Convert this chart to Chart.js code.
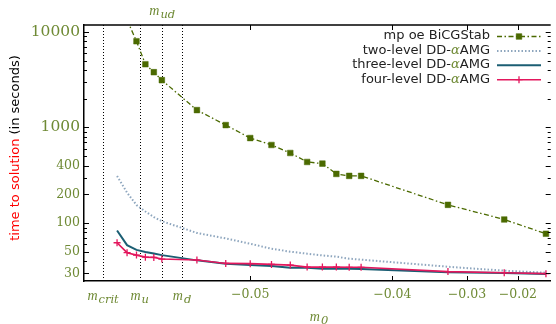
<!DOCTYPE html>
<html>
<head>
<meta charset="utf-8">
<script src="https://cdn.jsdelivr.net/npm/chart.js@4.4.1/dist/chart.umd.min.js"></script>
<style>
  html, body { margin: 0; padding: 0; background: #fff; }
  #chart { display: block; }
</style>
</head>
<body>
<canvas id="chart" width="556" height="324"></canvas>
<script>
// bare masses m0 and time to solution (s)
const massBiCG = [-0.0538, -0.0536, -0.0534, -0.0532, -0.0530, -0.052, -0.051, -0.050, -0.049,
                  -0.048, -0.047, -0.046, -0.045, -0.044, -0.043, -0.033, -0.023, -0.013];
const timeBiCG = [13300, 7950, 4575, 3776, 3118, 1518, 1059, 775, 656,
                  541, 436, 419, 327, 312, 312, 155.5, 109.3, 77.6];

const massDD = [-0.0540, -0.0538, -0.0536, -0.0534, -0.0532, -0.0530, -0.052, -0.051, -0.050, -0.049,
                -0.048, -0.047, -0.046, -0.045, -0.044, -0.043, -0.033, -0.023, -0.013];
const timeTwoLevel = [311.7, 208.8, 154.7, 132.4, 116.0, 104.9, 79.1, 69.3, 61.0, 54.1,
                      50.4, 48.0, 46.1, 44.7, 42.6, 41.6, 35.1, 31.9, 30.4];
const timeThreeLevel = [83.9, 59.0, 52.6, 50.1, 48.2, 46.4, 40.9, 37.8, 36.5, 35.7,
                        34.3, 34.3, 33.5, 33.5, 33.5, 33.2, 30.8, 30.1, 29.4];
const timeFourLevel = [62.5, 49.2, 46.4, 44.2, 43.9, 42.2, 41.2, 38.0, 37.8, 37.1,
                       36.5, 34.8, 34.8, 34.8, 34.6, 34.6, 31.2, 30.4, 29.7];

const seriesLabels = ['mp oe BiCGStab', 'two-level DD-αAMG', 'three-level DD-αAMG', 'four-level DD-αAMG'];

// axis ticks
const xTickValues = [-0.05, -0.04, -0.03, -0.02];
const yTickValues = [30, 50, 100, 200, 400, 1000, 10000];
const xRange = [-0.05458, -0.01169];
const yRange = [24.9, 11750];

// special masses (vertical dotted lines)
const markerNames = ['crit', 'u', 'ud', 'd'];
const markerMasses = [-0.05426, -0.05353, -0.05299, -0.05245];

// the m0 axis is stretched like log(m0 + SHIFT)
const SHIFT = 0.05715;
const toAxis = m => Math.log(m + SHIFT);

const OLIVE = '#6f8a35';
const colors = ['#4b6a00', '#8ea6be', '#1b5e73', '#e3175d'];

const points = (ms, ts) => ms.map((m, i) => ({ x: toAxis(m), y: ts[i] }));
const fmtMass = v => v.toFixed(2).replace('-', '\u2212');

function drawMathLabel(ctx, cx, baseline, sub) {
  ctx.font = 'italic 14px "Liberation Serif"';
  const wm = ctx.measureText('m').width;
  ctx.font = 'italic 11.5px "DejaVu Serif"';
  const ws = ctx.measureText(sub).width;
  const x0 = cx - (wm + ws + 1) / 2;
  ctx.fillStyle = OLIVE;
  ctx.textAlign = 'left';
  ctx.textBaseline = 'alphabetic';
  ctx.font = 'italic 14px "Liberation Serif"';
  ctx.fillText('m', x0, baseline);
  ctx.font = 'italic 11.5px "DejaVu Serif"';
  ctx.fillText(sub, x0 + wm + 1, baseline + 3);
}

const overlay = {
  id: 'overlay',
  beforeDatasetsDraw(chart) {
    const { ctx, chartArea: a, scales: { x } } = chart;
    ctx.save();
    ctx.strokeStyle = '#000';
    ctx.lineWidth = 1;
    ctx.setLineDash([1, 2]);
    markerMasses.forEach(m => {
      const px = Math.round(x.getPixelForValue(toAxis(m))) + 0.5;
      ctx.beginPath();
      ctx.moveTo(px, a.top);
      ctx.lineTo(px, a.bottom);
      ctx.stroke();
    });
    ctx.restore();
  },
  afterDraw(chart) {
    const { ctx, chartArea: a, scales: { x, y } } = chart;
    ctx.save();

    // top border
    ctx.strokeStyle = '#000';
    ctx.lineWidth = 1.5;
    ctx.beginPath();
    ctx.moveTo(a.left, a.top);
    ctx.lineTo(a.right, a.top);
    ctx.stroke();

    // inward tick marks
    ctx.lineWidth = 1;
    ctx.beginPath();
    for (let e = 1; e <= 4; e++) {
      for (let k = 1; k <= 9; k++) {
        const v = k * Math.pow(10, e);
        if (v < y.min || v > y.max) continue;
        const py = Math.round(y.getPixelForValue(v)) + 0.5;
        const len = yTickValues.includes(v) ? 5 : 3;
        ctx.moveTo(a.left, py); ctx.lineTo(a.left + len, py);
        ctx.moveTo(a.right - len, py); ctx.lineTo(a.right, py);
      }
    }
    xTickValues.forEach(m => {
      const px = Math.round(x.getPixelForValue(toAxis(m))) + 0.5;
      ctx.moveTo(px, a.bottom); ctx.lineTo(px, a.bottom - 5);
      ctx.moveTo(px, a.top); ctx.lineTo(px, a.top + 5);
    });
    ctx.stroke();

    // labels of the special masses
    markerMasses.forEach((m, i) => {
      const px = x.getPixelForValue(toAxis(m));
      if (markerNames[i] === 'ud') drawMathLabel(ctx, px, 15, markerNames[i]);
      else drawMathLabel(ctx, px, 300, markerNames[i]);
    });

    // x axis title m0
    drawMathLabel(ctx, 319, 321, '0');

    // y axis title, two colours
    ctx.save();
    ctx.translate(16, 148);
    ctx.rotate(-Math.PI / 2);
    ctx.font = '13px "DejaVu Sans"';
    ctx.textBaseline = 'middle';
    ctx.textAlign = 'left';
    const t1 = 'time to solution', t2 = ' (in seconds)';
    const w1 = ctx.measureText(t1).width, w2 = ctx.measureText(t2).width;
    let tx = -(w1 + w2) / 2;
    ctx.fillStyle = '#ff0000';
    ctx.fillText(t1, tx, 0);
    ctx.fillStyle = '#000';
    ctx.fillText(t2, tx + w1, 0);
    ctx.restore();

    // legend
    const rightText = 490, lineX0 = 497, lineX1 = 541;
    chart.data.datasets.forEach((ds, i) => {
      const ry = 36 + i * 14.4;
      const parts = ds.label.split('α');
      ctx.textBaseline = 'middle';
      ctx.textAlign = 'left';
      const sans = '13px "DejaVu Sans"', greek = 'italic 13px "DejaVu Serif"';
      ctx.font = sans;
      let w = ctx.measureText(parts[0]).width;
      let wa = 0, w2 = 0;
      if (parts.length > 1) {
        ctx.font = greek; wa = ctx.measureText('α').width;
        ctx.font = sans; w2 = ctx.measureText(parts[1]).width;
      }
      let px = rightText - (w + wa + w2);
      ctx.fillStyle = '#222';
      ctx.font = sans;
      ctx.fillText(parts[0], px, ry);
      if (parts.length > 1) {
        ctx.fillStyle = OLIVE;
        ctx.font = greek;
        ctx.fillText('α', px + w, ry);
        ctx.fillStyle = '#222';
        ctx.font = sans;
        ctx.fillText(parts[1], px + w + wa, ry);
      }
      // sample line
      ctx.save();
      ctx.strokeStyle = ds.borderColor;
      ctx.lineWidth = ds.borderWidth;
      ctx.setLineDash(ds.borderDash || []);
      ctx.beginPath();
      ctx.moveTo(lineX0, ry + 0.5);
      ctx.lineTo(lineX1, ry + 0.5);
      ctx.stroke();
      ctx.restore();
      if (ds.pointRadius > 0) {
        ctx.save();
        ctx.fillStyle = ds.pointBackgroundColor;
        ctx.strokeStyle = ds.borderColor;
        ctx.lineWidth = ds.pointBorderWidth;
        Chart.helpers.drawPoint(ctx, {
          pointStyle: ds.pointStyle, radius: ds.pointRadius,
          borderWidth: ds.pointBorderWidth, rotation: 0
        }, (lineX0 + lineX1) / 2, ry + 0.5);
        ctx.restore();
      }
    });

    ctx.restore();
  }
};

new Chart(document.getElementById('chart'), {
  type: 'line',
  data: {
    datasets: [
      {
        label: seriesLabels[0],
        data: points(massBiCG, timeBiCG),
        borderColor: colors[0], borderWidth: 1.3, borderDash: [5, 2.5, 1.5, 2.5],
        pointStyle: 'rect', pointRadius: 4, pointBorderWidth: 0.5,
        pointBackgroundColor: colors[0], pointBorderColor: colors[0],
        clip: 0, order: 1
      },
      {
        label: seriesLabels[1],
        data: points(massDD, timeTwoLevel),
        borderColor: colors[1], borderWidth: 2, borderDash: [1.5, 2],
        pointRadius: 0, order: 3
      },
      {
        label: seriesLabels[2],
        data: points(massDD, timeThreeLevel),
        borderColor: colors[2], borderWidth: 2,
        pointRadius: 0, order: 2
      },
      {
        label: seriesLabels[3],
        data: points(massDD, timeFourLevel),
        borderColor: colors[3], borderWidth: 1.6,
        pointStyle: 'cross', pointRadius: 3.5, pointBorderWidth: 1.3,
        pointBackgroundColor: colors[3], pointBorderColor: colors[3],
        order: 0
      }
    ]
  },
  options: {
    responsive: false,
    animation: false,
    devicePixelRatio: 1,
    layout: { padding: { top: 25, right: 0, bottom: 0, left: 0 } },
    plugins: { legend: { display: false }, tooltip: { enabled: false } },
    scales: {
      x: {
        type: 'linear',
        min: toAxis(xRange[0]),
        max: toAxis(xRange[1]),
        afterFit: s => { s.height = 43; },
        afterBuildTicks: s => { s.ticks = xTickValues.map(v => ({ value: toAxis(v) })); },
        grid: { display: false, drawTicks: false },
        border: { display: true, color: '#000', width: 1.5 },
        ticks: {
          autoSkip: false, maxRotation: 0, padding: 6,
          color: OLIVE, font: { family: 'DejaVu Serif', size: 12.5 },
          callback: (v, i) => fmtMass(xTickValues[i])
        }
      },
      y: {
        type: 'logarithmic',
        min: yRange[0],
        max: yRange[1],
        afterFit: s => { s.width = 84; },
        afterBuildTicks: s => { s.ticks = yTickValues.map(v => ({ value: v })); },
        grid: { display: false, drawTicks: false },
        border: { display: true, color: '#000', width: 1.5 },
        ticks: {
          autoSkip: false, padding: 4, color: OLIVE,
          font: c => ({ family: 'DejaVu Serif', size: c.tick && c.tick.value >= 1000 ? 15.5 : 12.5 }),
          callback: v => String(v)
        }
      }
    }
  },
  plugins: [overlay]
});
</script>
</body>
</html>
